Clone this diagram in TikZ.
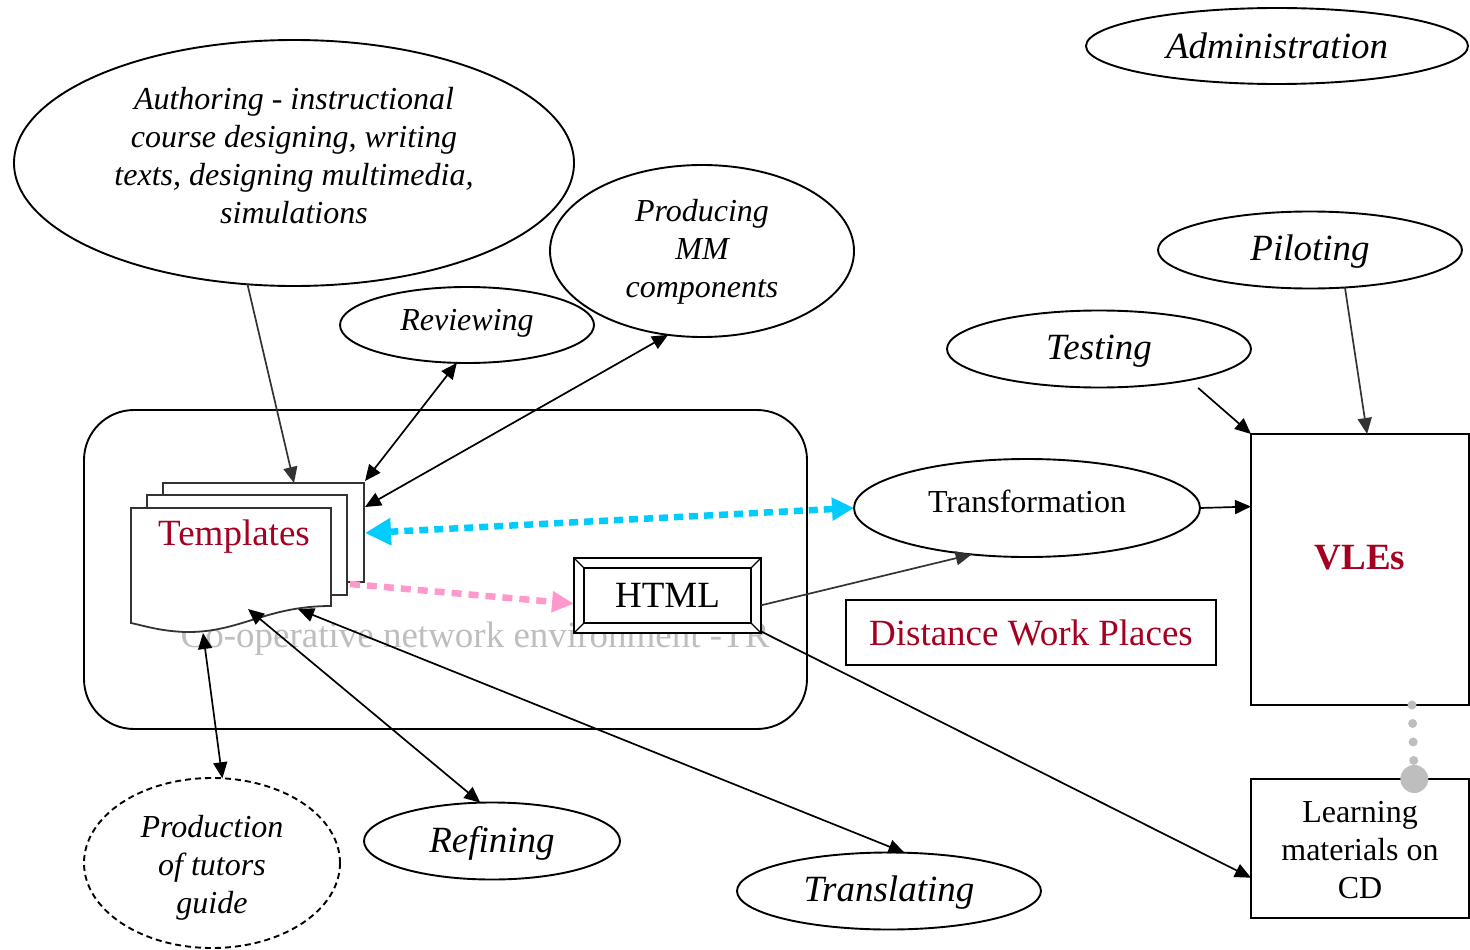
\documentclass[tikz,border=0pt]{standalone}
\usepackage{fontspec}
\setmainfont{Liberation Serif}
\usetikzlibrary{shapes.geometric,arrows.meta}
\definecolor{tplred}{RGB}{165,0,33}
\definecolor{cyanarrow}{RGB}{0,204,255}
\definecolor{pinkarrow}{RGB}{255,153,204}
\definecolor{netgray}{RGB}{190,190,190}
\definecolor{linegray}{RGB}{51,51,51}
\begin{document}
\begin{tikzpicture}[x=1pt,y=-1pt,
  ell/.style={ellipse,draw,line width=1.9pt,inner sep=0pt,outer sep=0pt,align=center,font=\fontsize{32}{38}\selectfont\itshape},
  bigell/.style={ell,font=\fontsize{37}{43}\selectfont\itshape},
  txt/.style={inner sep=0pt,align=center,font=\fontsize{32}{38}\selectfont\itshape},
  box/.style={rectangle,draw,line width=1.9pt,inner sep=0pt,outer sep=0pt,align=center},
  arr/.style={line width=1.7pt,-{Triangle[length=16pt,width=14pt]}},
  darr/.style={line width=1.7pt,{Triangle[length=16pt,width=14pt]}-{Triangle[length=16pt,width=14pt]}},
  page/.style={draw=linegray,line width=1.8pt,fill=white},
  cyandots/.style={cyanarrow,line width=6.5pt,dash pattern=on 9pt off 6pt,{Triangle[length=26pt,width=26pt]}-{Triangle[length=22pt,width=22pt]}},
  pinkdots/.style={pinkarrow,line width=6.5pt,dash pattern=on 10pt off 7pt,-{Triangle[length=22pt,width=20pt]}},
  graydots/.style={netgray,line width=9pt,line cap=round,dash pattern=on 0pt off 18.5pt}]
\useasboundingbox (0,0) rectangle (1470,950);

% ellipses
\node[bigell,minimum width=382pt,minimum height=76pt] (admin) at (1277,46) {Administration};
\node[ell,minimum width=560pt,minimum height=246pt] (auth) at (294,163) {};
\node[txt] (authtext) at (294,156) {Authoring - instructional\\course designing, writing\\texts, designing multimedia,\\simulations};
\node[ell,minimum width=304pt,minimum height=172pt] (prod) at (702,251) {};
\node[txt] (prodtext) at (702,252) {Producing\\MM\\components};
\node[ell,minimum width=254pt,minimum height=76pt] (rev) at (467,325) {};
\node[txt] (revtext) at (467,323) {Reviewing};
\node[bigell,minimum width=304pt,minimum height=77pt] (pilot) at (1310,250) {};
\node[txt,font=\fontsize{37}{43}\selectfont\itshape] (pilottext) at (1310,252) {Piloting};
\node[bigell,minimum width=304pt,minimum height=77pt] (test) at (1099,349) {};
\node[txt,font=\fontsize{37}{43}\selectfont\itshape] (testtext) at (1099,351) {Testing};
\node[ell,minimum width=346pt,minimum height=98pt] (trans) at (1027,508) {};
\node[txt,font=\fontsize{32}{38}\selectfont] (transtext) at (1027,501) {Transformation};
\node[bigell,minimum width=256pt,minimum height=77pt] (ref) at (492,841) {};
\node[txt,font=\fontsize{37}{43}\selectfont\itshape] (reftext) at (492,843) {Refining};
\node[bigell,minimum width=304pt,minimum height=77pt] (transl) at (889,891) {};
\node[txt,font=\fontsize{37}{43}\selectfont\itshape] (transltext) at (889,893) {Translating};
\node[ell,dash pattern=on 6pt off 4pt,minimum width=256pt,minimum height=170pt] (guide) at (212,863) {};
\node[txt] (guidetext) at (212,868) {Production\\of tutors\\guide};

% network box
\node[draw,line width=1.9pt,rounded corners=50pt,minimum width=723pt,minimum height=319pt,inner sep=0pt,outer sep=0pt] (net) at (445.5,569.5) {};
\node[text=netgray,font=\fontsize{37}{43}\selectfont,inner sep=0pt] (nettext) at (475,639) {Co-operative network environment -TR};

% templates
\node[page,minimum width=201pt,minimum height=99pt,inner sep=0pt,outer sep=0pt] (tback) at (263.5,532.5) {};
\node[page,minimum width=200pt,minimum height=100pt,inner sep=0pt,outer sep=0pt] (tmid) at (247,545) {};
\draw[page] (131,508) -- (331,508) -- (331,606) .. controls (265,606) and (240,633) .. (185,632) .. controls (160,631) and (145,626) .. (131,623) -- cycle;
\node[text=tplred,font=\fontsize{37}{43}\selectfont,inner sep=0pt] (tpl) at (234,537) {Templates};
\coordinate (tA) at (294,483);
\coordinate (tR) at (365,481);
\coordinate (tP) at (365,507);
\coordinate (tC) at (365,533);
\coordinate (tK) at (350,584);
\coordinate (tF) at (248,609);
\coordinate (tT) at (298,609);
\coordinate (tG) at (203,633);

% HTML
\node[box,fill=white,minimum width=187pt,minimum height=75pt,font=\fontsize{37}{43}\selectfont] (html) at (667.5,595.5) {HTML};
\draw[line width=1.9pt] ([shift={(10,10)}]html.north west) rectangle ([shift={(-10,-10)}]html.south east);
\draw[line width=1.3pt] (html.north west) -- ([shift={(10,10)}]html.north west);
\draw[line width=1.3pt] (html.north east) -- ([shift={(-10,10)}]html.north east);
\draw[line width=1.3pt] (html.south west) -- ([shift={(10,-10)}]html.south west);
\draw[line width=1.3pt] (html.south east) -- ([shift={(-10,-10)}]html.south east);

% boxes
\node[box,text=tplred,font=\fontsize{37}{43}\selectfont,minimum width=370pt,minimum height=65pt] (dwp) at (1031,632.5) {Distance Work Places};
\node[box,minimum width=218pt,minimum height=271pt] (vle) at (1360,569.5) {};
\node[txt,text=tplred,font=\fontsize{37}{43}\selectfont\bfseries] (vletext) at (1360,558) {VLEs};
\node[box,minimum width=218pt,minimum height=139pt] (cd) at (1360,848.5) {};
\node[txt,font=\fontsize{32}{38}\selectfont] (cdtext) at (1360,850.5) {Learning\\materials on\\CD};

% connectors
\draw[arr,linegray] (auth.249.5) -- (tA);
\draw[darr] (tR) -- (rev.255);
\draw[darr] (tP) -- (prod.248);
\draw[cyandots] (tC) -- (trans.180);
\draw[pinkdots] (tK) -- (html.185.8);
\draw[arr,linegray] (html.354.2) -- (trans.220.7);
\draw[arr] (html.339.75) -- (cd.195.1);
\draw[arr] (trans.0) -- (vle.150.6);
\draw[arr,shorten <=12pt] (test.341.6) -- (vle.north west);
\draw[arr,linegray] (pilot.313.4) -- (vle.87);
\draw[darr] (tF) -- (ref.107.5);
\draw[darr] (tT) -- (transl.68.7);
\draw[darr] (tG) -- (guide.83.2);
\draw[graydots] (vle.291.7) -- (cd.52.2);
\fill[netgray] (cd.52.2) circle (14pt);
\end{tikzpicture}
\end{document}
